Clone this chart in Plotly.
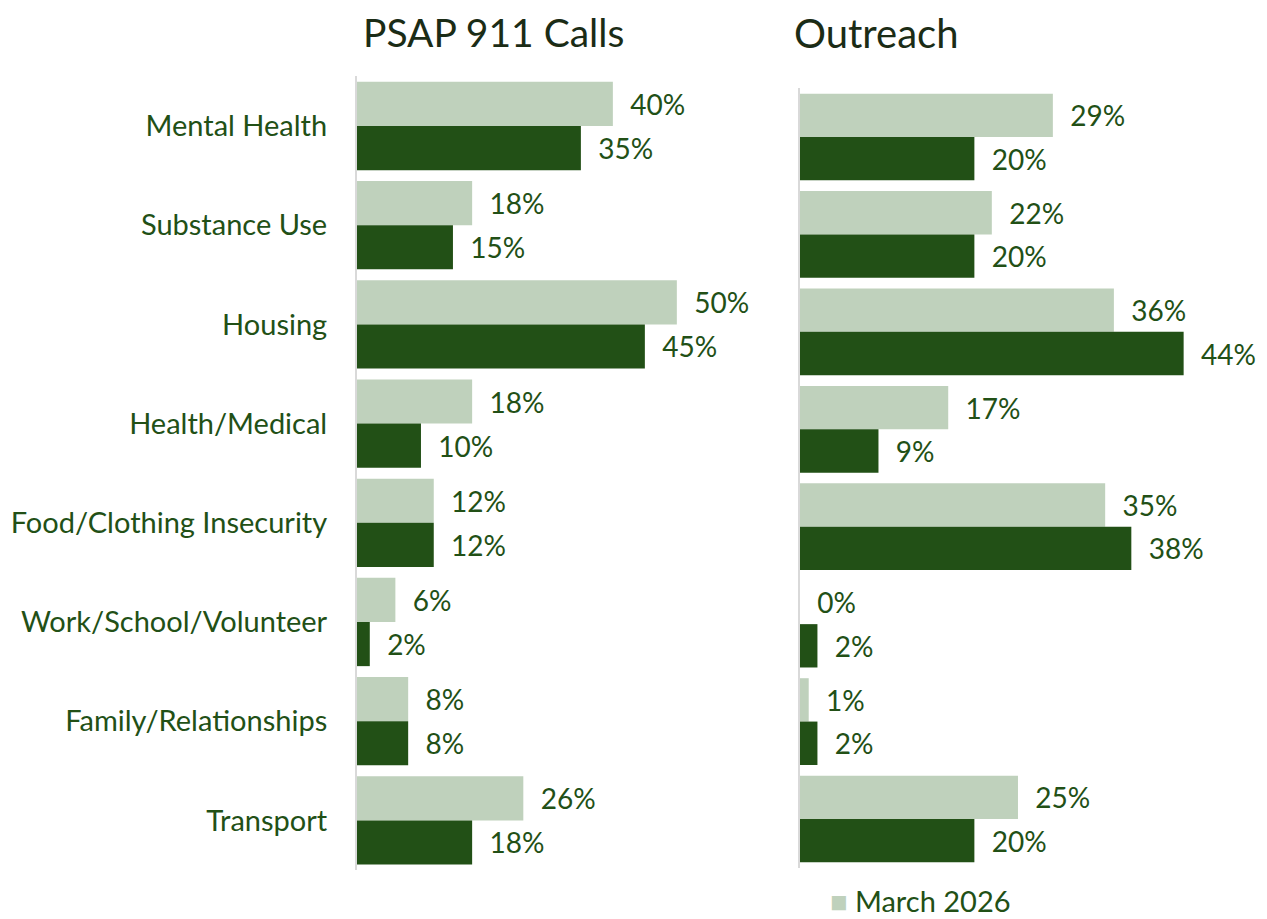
import plotly.graph_objects as go

categories = ["Mental Health", "Substance Use", "Housing", "Health/Medical",
              "Food/Clothing Insecurity", "Work/School/Volunteer",
              "Family/Relationships", "Transport"]

psap_march = [40, 18, 50, 18, 12, 6, 8, 26]
psap_other = [35, 15, 45, 10, 12, 2, 8, 18]
outreach_march = [29, 22, 36, 17, 35, 0, 1, 25]
outreach_other = [20, 20, 44, 9, 38, 2, 2, 20]

LIGHT = "#BFD1BC"
DARK = "#225016"
TEXT = "#225016"
TITLE = "#1B2C16"
FONT = "Lato"

# page body has an 8px margin, so the figure is drawn 8px smaller
W, H = 1259, 911

label = "\u00a0\u00a0%{x}%"

fig = go.Figure()

def add_bars(values, color, xa, ya, name):
    fig.add_trace(go.Bar(
        y=categories, x=values, orientation="h", name=name,
        marker=dict(color=color, line=dict(width=0)),
        texttemplate=label, textposition="outside", cliponaxis=False,
        constraintext="none",
        textfont=dict(family=FONT, size=28, color=TEXT),
        xaxis=xa, yaxis=ya, showlegend=False,
    ))

add_bars(psap_march, LIGHT, "x", "y", "March 2026")
add_bars(psap_other, DARK, "x", "y", "Previous")
add_bars(outreach_march, LIGHT, "x2", "y2", "March 2026")
add_bars(outreach_other, DARK, "x2", "y2", "Previous")

axis_line = dict(showline=True, linecolor="#D9D9D9", linewidth=2,
                 showgrid=False, zeroline=False, ticks="")

fig.update_layout(
    width=W, height=H,
    margin=dict(l=0, r=0, t=0, b=0),
    paper_bgcolor="white", plot_bgcolor="white",
    barmode="group", bargap=0.11, bargroupgap=0,
    font=dict(family=FONT, color=TEXT),
    xaxis=dict(domain=[349 / W, 752 / W], range=[0, 63], visible=False),
    yaxis=dict(domain=[1 - 862 / H, 1 - 68.4 / H], anchor="x", autorange="reversed",
               tickfont=dict(family=FONT, size=29, color=TEXT),
               ticklabelstandoff=22, **axis_line),
    xaxis2=dict(domain=[792 / W, 1.0], range=[0, 53.56], visible=False, anchor="y2"),
    yaxis2=dict(domain=[1 - 859.7 / H, 1 - 80.3 / H], anchor="x2", autorange="reversed",
                showticklabels=False, **axis_line),
    annotations=[
        dict(text="PSAP 911 Calls", x=354 / W, y=1.0, xref="paper", yref="paper",
             xanchor="left", yanchor="top", showarrow=False, borderpad=0,
             font=dict(family=FONT, size=39, color=TITLE)),
        dict(text="Outreach", x=785 / W, y=1.0, xref="paper", yref="paper",
             xanchor="left", yanchor="top", showarrow=False, borderpad=0,
             font=dict(family=FONT, size=40, color=TITLE)),
        dict(text=f"<span style='color:{LIGHT}'>■</span> March 2026",
             x=821 / W, y=0.0, xref="paper", yref="paper",
             xanchor="left", yanchor="bottom", showarrow=False, borderpad=0,
             font=dict(family=FONT, size=29, color=TEXT)),
    ],
)

fig.write_html("out.html")
